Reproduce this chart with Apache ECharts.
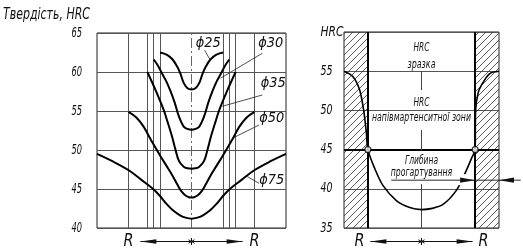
<!DOCTYPE html>
<html><head><meta charset="utf-8">
<script src="https://cdn.jsdelivr.net/npm/echarts@6/dist/echarts.min.js"></script>
<style>html,body{margin:0;padding:0;background:#fff}#c{width:523px;height:251px}</style>
</head><body><div id="c"></div>
<script>
// ---------- data ----------
const titleText = 'Твердість, HRC';
const leftTicks = [40, 45, 50, 55, 60, 65];
const rightTicks = [35, 40, 45, 50, 55, 60];
const rightTickLabels = ['35', '40', '45', '50', '55', 'HRC'];
const diameters = ['ϕ25', 'ϕ30', 'ϕ35', 'ϕ50', 'ϕ75'];
const radii = [12.5, 15, 17.5, 25];          // mm, vertical guide lines (±)
const halfWidthLeft = 37.5;                   // mm
const d25 = [[-12.5,62.5],[-9.7,62.2],[-7.5,61.6],[-5.7,60.7],[-4.4,59.8],[-3.1,58.6],[-1.7,57.95],[0,57.75],[1.7,57.95],[3.1,58.6],[4.4,59.8],[5.7,60.7],[7.5,61.6],[9.7,62.2],[12.5,62.5]];
const d30 = [[-15,61.6],[-13.3,60.8],[-11.7,59.8],[-10,58.8],[-8.4,57.6],[-6.7,56.1],[-5,54.3],[-3.1,53.0],[-1.6,52.7],[0,52.6],[1.6,52.7],[3.1,53.0],[5,54.3],[6.7,56.1],[8.4,57.6],[10,58.8],[11.7,59.8],[13.3,60.8],[15,61.6]];
const d35 = [[-17.5,60],[-14.3,57.7],[-11,55.1],[-9.5,53.6],[-7.7,51.7],[-6.4,50.1],[-5,48.6],[-3.1,47.85],[-1.5,47.65],[0,47.6],[1.5,47.65],[3.1,47.85],[5,48.6],[6.4,50.1],[7.7,51.7],[9.5,53.6],[11,55.1],[14.3,57.7],[17.5,60]];
const d50 = [[-25,54.9],[-22,54.2],[-19,53.0],[-16.3,51.4],[-12.3,49.2],[-10,48.0],[-7.7,46.8],[-5.5,45.5],[-4.2,44.8],[-2.5,44.2],[-1,43.95],[0,43.9],[1,43.95],[2.5,44.2],[4.2,44.8],[5.5,45.5],[7.7,46.8],[10,48.0],[12.3,49.2],[16.3,51.4],[19,53.0],[22,54.2],[25,54.9]];
const d75 = [[-37.5,49.5],[-31,48.5],[-24.9,47.4],[-20,46.2],[-15.2,45.0],[-12.5,44.1],[-10.5,43.3],[-7.5,42.3],[-4.4,41.6],[-2,41.3],[0,41.2],[2,41.3],[4.4,41.6],[7.5,42.3],[10.5,43.3],[12.5,44.1],[15.2,45.0],[20,46.2],[24.9,47.4],[31,48.5],[37.5,49.5]];
const leftCurves = [d25, d30, d35, d50, d75];
const rightCurve = [[-50,55],[-44.2,54.3],[-39.9,52.6],[-37.3,50.0],[-35.6,47.2],[-34.6,45],[-30.2,42.6],[-24.8,40.4],[-16.2,38.5],[-7.6,37.6],[0,37.35],[7,37.5],[13.9,38.0],[22.5,39.8],[27.9,41.9],[32.2,43.85],[34.6,45],[34.9,50],[36.5,52.2],[38.6,53.2],[44,54.7],[50,55]];
const bandEdge = 34.6;            // inner edge of hatched (hardened) layer
const halfMartLevel = 45;         // HRC of half-martensite zone
const centreSegments = [[61.6,58.7],[54.95,52.6],[47.5,44.9],[40.6,35]];
const rightTexts = ['HRC', 'зразка', 'HRC', 'напівмартенситної зони', 'Глибина', 'прогартування'];
const rightTextLevels = [58.0, 55.85, 51.0, 49.1, 43.56, 42.0];

// ---------- chart ----------
const FONT = "'Liberation Sans Narrow','DejaVu Sans Condensed','DejaVu Sans',sans-serif";
const mctx = document.createElement('canvas').getContext('2d');
// narrow italic drafting-style text: scale the glyphs horizontally to the wanted width
function txt(text, x, y, fs, width, align, z) {
  mctx.font = 'italic ' + fs + 'px ' + FONT;
  const w = mctx.measureText(text).width || 1;
  return {type: 'text', x: x, y: y, scaleX: width / w, z: z || 10, silent: true,
    style: {text: text, fontSize: fs, fontFamily: FONT, fontStyle: 'italic', fill: '#111',
      align: align || 'center', verticalAlign: 'middle'}};
}

function hatchCanvas() {
  const s = 7, c = document.createElement('canvas');
  c.width = s; c.height = s;
  const g = c.getContext('2d');
  g.strokeStyle = '#333'; g.lineWidth = 0.8;
  g.beginPath();
  for (const o of [-s, 0, s]) { g.moveTo(o, s); g.lineTo(o + s, 0); }
  g.stroke();
  return c;
}

const chart = echarts.init(document.getElementById('c'), null, {renderer: 'canvas'});
const noAxis = {axisLabel: {show: false}, axisLine: {show: false}, axisTick: {show: false}, splitLine: {show: false}};
const lineNone = {symbol: ['none', 'none'], silent: true, label: {show: false}};

const series = leftCurves.map((d, i) => ({
  type: 'line', name: diameters[i], xAxisIndex: 0, yAxisIndex: 0, data: d,
  smooth: 0.35, showSymbol: false, lineStyle: {color: '#000', width: 2}, z: 5,
  markLine: i === 0 ? Object.assign({}, lineNone, {
    lineStyle: {color: '#555', width: 1, type: 'solid'},
    data: radii.flatMap(r => [{xAxis: -r}, {xAxis: r}])
      .concat([{xAxis: 0, lineStyle: {color: '#666', width: 1, type: [10, 3, 2, 3]}}])
  }) : undefined
}));

series.push({
  type: 'line', name: 'right', xAxisIndex: 1, yAxisIndex: 1, data: rightCurve,
  smooth: 0.3, showSymbol: false, lineStyle: {color: '#000', width: 1.6}, z: 5, clip: false,
  markArea: {silent: true, itemStyle: {color: {image: hatchCanvas(), repeat: 'repeat'}},
    data: [[{xAxis: -50}, {xAxis: -bandEdge}], [{xAxis: bandEdge}, {xAxis: 50}]]},
  markLine: Object.assign({}, lineNone, {
    lineStyle: {color: '#000', width: 2, type: 'solid'},
    data: [{xAxis: -bandEdge}, {xAxis: bandEdge}, {yAxis: halfMartLevel}].concat(
      centreSegments.map(s => [{coord: [0, s[0]], lineStyle: {color: '#444', width: 1}}, {coord: [0, s[1]]}]))
  })
});
series.push({
  type: 'scatter', xAxisIndex: 1, yAxisIndex: 1, symbolSize: 6, z: 8,
  data: [[-bandEdge, halfMartLevel], [bandEdge, halfMartLevel]],
  itemStyle: {color: '#fff', borderColor: '#000', borderWidth: 1.2}
});

chart.setOption({
  animation: false,
  backgroundColor: '#fff',
  grid: [
    {left: 97, top: 33, width: 189, height: 195, show: true, borderColor: '#222', borderWidth: 1},
    {left: 344, top: 32, width: 155, height: 196, show: true, borderColor: '#222', borderWidth: 1}
  ],
  xAxis: [
    Object.assign({gridIndex: 0, type: 'value', min: -halfWidthLeft, max: halfWidthLeft}, noAxis),
    Object.assign({gridIndex: 1, type: 'value', min: -50, max: 50}, noAxis)
  ],
  yAxis: [
    {gridIndex: 0, type: 'value', min: leftTicks[0], max: leftTicks[leftTicks.length - 1], interval: 5,
     axisLabel: {show: false}, axisLine: {show: false}, axisTick: {show: false},
     splitLine: {lineStyle: {color: '#555', width: 1}}},
    {gridIndex: 1, type: 'value', min: rightTicks[0], max: rightTicks[rightTicks.length - 1], interval: 5,
     axisLabel: {show: false}, axisLine: {show: false}, axisTick: {show: false},
     splitLine: {lineStyle: {color: '#555', width: 1}}}
  ],
  series: series
});

// ---------- annotations ----------
const P = (g, x, y) => chart.convertToPixel({gridIndex: g}, [x, y]);
const G = [];
G.push(txt(titleText, 3, 14.5, 16, 87, 'left'));

// tick labels
leftTicks.forEach(v => { const p = P(0, 0, v); G.push(txt(String(v), 82, p[1], 13.5, 10.5, 'right')); });
rightTicks.forEach((v, i) => {
  const p = P(1, 0, v), s = rightTickLabels[i];
  G.push(txt(s, 320.5, p[1], 13.5, s.length > 2 ? 23 : 12, 'left'));
});

const labelPos = [[6.6, 63.7], [31.4, 63.7], [32.4, 58.6], [31.8, 54.1], [31.8, 46.15]];
const leaders = [[[5.2, 62.8], [7.3, 61.6]], [[28.1, 62.4], [11.5, 59.2]], [[28.1, 57.05], [12.2, 55.6]], [[26.8, 53.2], [16.8, 51.6]], [[26.8, 45.73], [22.1, 46.6]]];
diameters.forEach((d, i) => {
  const p = P(0, labelPos[i][0], labelPos[i][1]);
  G.push(txt(d, p[0], p[1], 14, 25, 'center'));
  const a = P(0, ...leaders[i][0]), b = P(0, ...leaders[i][1]);
  G.push({type: 'line', shape: {x1: a[0], y1: a[1], x2: b[0], y2: b[1]}, style: {stroke: '#222', lineWidth: 0.8}, z: 10});
});

const rightFs = [12.5, 12, 12.5, 12.5, 12, 12];
const rightW = [16, 28, 16, 99, 33, 61.5];
rightTexts.forEach((t, i) => {
  const p = P(1, 0, rightTextLevels[i]);
  G.push(txt(t, p[0], p[1], rightFs[i], rightW[i], 'center'));
});

function head(tx, ty, dir, len, half) {
  return {type: 'polygon', shape: {points: [[tx, ty], [tx - dir * len, ty - half], [tx - dir * len, ty + half]]}, style: {fill: '#111'}, z: 12};
}
function star(cx, cy) {
  const r = 3.5;
  for (let k = 0; k < 3; k++) {
    const a = Math.PI / 2 + k * Math.PI / 3;
    G.push({type: 'line', shape: {x1: cx - r * Math.cos(a), y1: cy - r * Math.sin(a), x2: cx + r * Math.cos(a), y2: cy + r * Math.sin(a)}, style: {stroke: '#111', lineWidth: 1}, z: 12});
  }
}
// bottom R-arrows
function rAxis(g, rVal, tipVal, yv) {
  const c = P(g, 0, yv), l = P(g, -rVal, yv), r = P(g, rVal, yv), tl = P(g, -tipVal, yv), tr = P(g, tipVal, yv);
  const y = c[1] + 13.5;
  G.push(txt('R', l[0], y, 17, 10, 'center'));
  G.push(txt('R', r[0], y, 17, 10, 'center'));
  G.push({type: 'line', shape: {x1: tl[0], y1: y, x2: tr[0], y2: y}, style: {stroke: '#111', lineWidth: 1}});
  G.push(head(tl[0], y, -1, 16, 2.3));
  G.push(head(tr[0], y, 1, 16, 2.3));
  star(c[0], y);
}
rAxis(0, 25, 20.3, 40);
rAxis(1, 40, 33, 35);

// depth-of-hardening dimension (with a small break in the curve under the arrow)
const dimLevel = 41.1;
const u1 = P(1, -19.5, dimLevel), u2 = P(1, 64, dimLevel), e1 = P(1, bandEdge, dimLevel), e2 = P(1, 50, dimLevel);
G.push({type: 'rect', shape: {x: e1[0] - 17, y: e1[1] - 6, width: 9, height: 11}, style: {fill: '#fff'}, z: 10});
G.push({type: 'line', shape: {x1: u1[0], y1: u1[1], x2: u2[0], y2: u2[1]}, style: {stroke: '#111', lineWidth: 0.9}, z: 11});
G.push(head(e1[0], e1[1], 1, 15, 2.6));
G.push(head(e2[0], e2[1], -1, 15, 2.6));

chart.setOption({graphic: G});
</script>
</body></html>
